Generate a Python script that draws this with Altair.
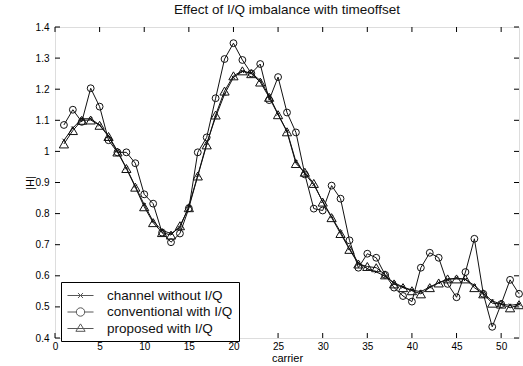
import altair as alt
import pandas as pd

carrier = list(range(1, 53))

channel = [1.036, 1.075, 1.105, 1.105, 1.085, 1.051, 1.001, 0.947, 0.888, 0.829,
           0.775, 0.746, 0.736, 0.755, 0.824, 0.923, 1.026, 1.11, 1.184, 1.238,
           1.257, 1.252, 1.228, 1.179, 1.12, 1.065, 0.967, 0.928, 0.893, 0.839,
           0.79, 0.741, 0.687, 0.642, 0.623, 0.613, 0.598, 0.578, 0.564, 0.554,
           0.549, 0.564, 0.578, 0.588, 0.593, 0.588, 0.569, 0.544, 0.519, 0.509,
           0.505, 0.509]

conventional = [1.085, 1.134, 1.095, 1.203, 1.144, 1.036, 0.997, 0.997, 0.962, 0.862,
                0.832, 0.739, 0.708, 0.736, 0.817, 0.997, 1.045, 1.171, 1.297, 1.348,
                1.294, 1.251, 1.281, 1.165, 1.239, 1.125, 1.061, 0.926, 0.816, 0.81,
                0.89, 0.848, 0.714, 0.626, 0.671, 0.658, 0.603, 0.562, 0.535, 0.517,
                0.626, 0.674, 0.658, 0.574, 0.531, 0.612, 0.719, 0.542, 0.436, 0.509,
                0.587, 0.542]

proposed = [1.024, 1.067, 1.1, 1.101, 1.084, 1.048, 0.998, 0.945, 0.885, 0.822,
            0.771, 0.739, 0.731, 0.761, 0.819, 0.921, 1.021, 1.117, 1.194, 1.243,
            1.259, 1.25, 1.223, 1.174, 1.118, 1.063, 0.961, 0.933, 0.897, 0.837,
            0.787, 0.736, 0.685, 0.638, 0.63, 0.626, 0.603, 0.574, 0.562, 0.552,
            0.542, 0.562, 0.577, 0.59, 0.59, 0.59, 0.562, 0.542, 0.512, 0.509,
            0.497, 0.507]

series_names = ["channel without I/Q", "conventional with I/Q", "proposed with I/Q"]
x_ticks = [0, 5, 10, 15, 20, 25, 30, 35, 40, 45, 50]
y_ticks = [0.4, 0.5, 0.6, 0.7, 0.8, 0.9, 1.0, 1.1, 1.2, 1.3, 1.4]

rows = []
for name, vals in zip(series_names, [channel, conventional, proposed]):
    for c, v in zip(carrier, vals):
        rows.append({"carrier": c, "value": v, "series": name})
df = pd.DataFrame(rows)

W, H = 464, 311
FONT = "Liberation Sans"
INK = "#111"

xscale = alt.Scale(domain=[0, 52], nice=False, zero=False)
yscale = alt.Scale(domain=[0.4, 1.4], nice=False, zero=False)

X_AX = alt.Axis(values=x_ticks, tickCount=11, title="carrier", ticks=False, domain=False,
                grid=False, labelPadding=3, titlePadding=1,
                labelFlush=False, labelOverlap=False, titleFontWeight="normal")
Y_AX = alt.Axis(values=y_ticks, tickCount=11, title="|H|", ticks=False,
                domain=False, grid=False, labelPadding=6, titlePadding=0,
                format=".1~f", labelFlush=False,
                labelOverlap=False, titleFontWeight="normal")


def xe():
    return alt.X("carrier:Q", scale=xscale, axis=X_AX, title="carrier")


def ye():
    return alt.Y("value:Q", scale=yscale, axis=Y_AX, title="|H|")


xmark_path = "M-1,-1L1,1M-1,1L1,-1"

lines = alt.Chart(df).mark_line(color=INK, strokeWidth=1).encode(
    x=xe(), y=ye(), detail="series:N"
)

points = alt.Chart(df).mark_point(filled=False, color=INK, strokeWidth=1, opacity=1).encode(
    x=xe(),
    y=ye(),
    shape=alt.Shape("series:N", scale=alt.Scale(domain=series_names,
                                                range=[xmark_path, "circle", "triangle-up"]),
                    legend=None),
    size=alt.Size("series:N", scale=alt.Scale(domain=series_names, range=[9, 85, 95]),
                  legend=None),
)

# legend symbols: 1 unit = 7 px (symbolSize 196)
leg_x = "M-1.86,0L1.86,0M-0.36,-0.36L0.36,0.36M-0.36,0.36L0.36,-0.36"
leg_circle = ("M-1.86,0L-0.6,0M0.6,0L1.86,0M-0.6,0A0.6,0.6,0,1,1,0.6,0"
              "A0.6,0.6,0,1,1,-0.6,0")
leg_tri = "M-1.86,0L1.86,0M-0.66,0.4L0,-0.66L0.66,0.4Z"

legend_layer = alt.Chart(df).transform_filter("false").mark_point(
    filled=False, color=INK, strokeWidth=1
).encode(
    shape=alt.Shape("series:N",
                    scale=alt.Scale(domain=series_names, range=[leg_x, leg_circle, leg_tri]),
                    legend=alt.Legend(title=None, orient="none", legendX=6, legendY=255,
                                      strokeColor="#000", fillColor="white", padding=6,
                                      cornerRadius=0, rowPadding=2.5, labelOffset=19,
                                      symbolOffset=6,
                                      symbolSize=196, symbolStrokeWidth=1,
                                      symbolStrokeColor=INK,
                                      labelFont=FONT, labelFontSize=13.5,
                                      labelColor=INK))
)

tick_len = 5
xt = pd.DataFrame({"carrier": x_ticks})
yt = pd.DataFrame({"value": y_ticks})

tb = alt.Chart(xt).mark_rule(color="#000", strokeWidth=1).encode(
    x=xe(), y=alt.value(H), y2=alt.value(H - tick_len))
tt = alt.Chart(xt).mark_rule(color="#000", strokeWidth=1).encode(
    x=xe(), y=alt.value(0), y2=alt.value(tick_len))
tl = alt.Chart(yt).mark_rule(color="#000", strokeWidth=1).encode(
    y=ye(), x=alt.value(0), x2=alt.value(tick_len))
tr = alt.Chart(yt).mark_rule(color="#000", strokeWidth=1).encode(
    y=ye(), x=alt.value(W), x2=alt.value(W - tick_len))

chart = alt.layer(lines, points, tb, tt, tl, tr, legend_layer).resolve_scale(
    shape="independent"
).properties(
    width=W, height=H,
    title=alt.TitleParams("Effect of I/Q imbalance with timeoffset", font=FONT,
                          fontSize=13.5, fontWeight="normal", color=INK,
                          anchor="middle", offset=6),
    autosize=alt.AutoSizeParams(type="none"),
    padding={"left": 55, "top": 27, "right": 4, "bottom": 28},
).configure_view(
    stroke="#000", strokeWidth=1.2
).configure_axis(
    labelFont=FONT, labelFontSize=12.5, labelColor=INK, labelOverlap=False,
    titleFont=FONT, titleFontSize=12.5, titleColor=INK, titleFontWeight="normal"
).configure(background="white")

chart.save("out.html", embed_options={"renderer": "svg", "actions": False})
